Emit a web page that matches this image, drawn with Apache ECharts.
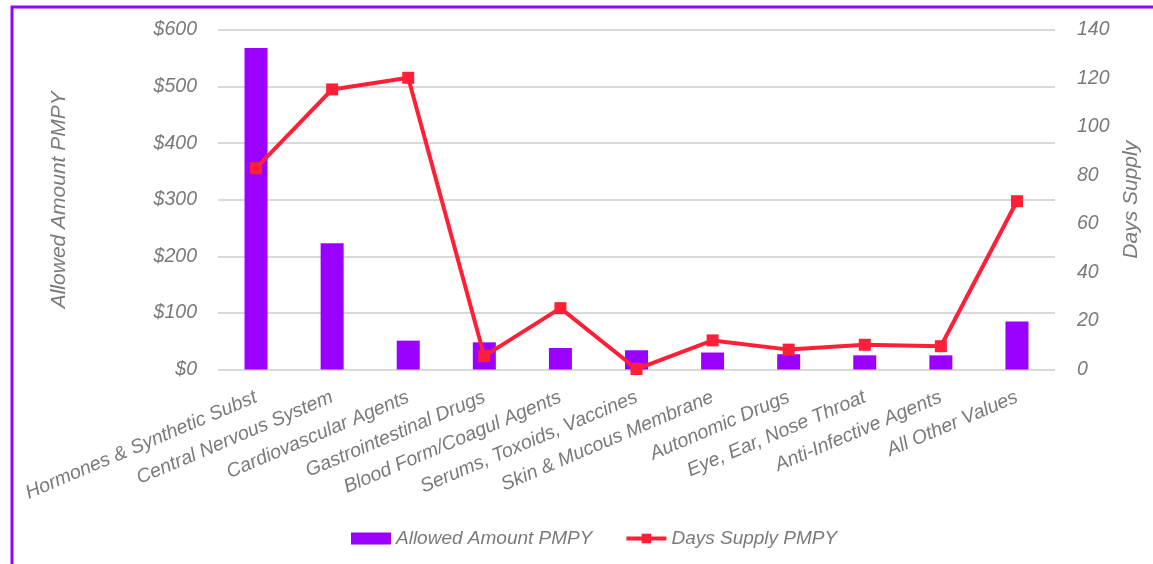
<!DOCTYPE html>
<html lang="en">
<head>
    <meta charset="utf-8">
    <title>Allowed Amount and Days Supply PMPY</title>
    <style>
        html, body { margin: 0; padding: 0; background: #fff; }
        #main { width: 1153px; height: 564px; }
    </style>
</head>
<body>
<div id="main"></div>
<script src="https://cdn.jsdelivr.net/npm/echarts@6/dist/echarts.min.js"></script>
<script type="text/javascript">

    // categories on the x axis
    var categories = [
        'Hormones & Synthetic Subst',
        'Central Nervous System',
        'Cardiovascular Agents',
        'Gastrointestinal Drugs',
        'Blood Form/Coagul Agents',
        'Serums, Toxoids, Vaccines',
        'Skin & Mucous Membrane',
        'Autonomic Drugs',
        'Eye, Ear, Nose Throat',
        'Anti-Infective Agents',
        'All Other Values'
    ];

    // bars, left axis ($)
    var allowedAmount = [568, 223, 51, 48, 38, 34, 30, 27, 25, 25, 85];

    // line, right axis (days)
    var daysSupply = [83, 115.5, 120.3, 5.5, 25.3, 0.2, 12, 8.2, 10.2, 9.6, 69.4];

    var textGray = '#7a7a7a';
    var fontName = 'Liberation Sans';
    var fs = 19.5;

    var myChart = echarts.init(document.getElementById('main'));

    var option = {
        animation: false,
        textStyle: { fontFamily: fontName },
        graphic: [{
            type: 'rect',
            shape: { x: 12, y: 7, width: 1200, height: 620 },
            style: { fill: 'none', stroke: '#9900ff', lineWidth: 3 },
            silent: true
        }],
        grid: {
            left: 218,
            right: 98,
            top: 30,
            bottom: 194.5
        },
        legend: {
            left: 346,
            top: 524,
            itemWidth: 40,
            itemHeight: 12,
            itemGap: 32,
            textStyle: { color: textGray, fontSize: 19, fontStyle: 'italic', fontFamily: fontName },
            data: [
                { name: 'Allowed Amount PMPY', icon: 'rect' },
                { name: 'Days Supply PMPY', lineStyle: { width: 4 } }
            ]
        },
        xAxis: {
            type: 'category',
            data: categories,
            axisLine: { show: false },
            axisTick: { show: false },
            axisLabel: {
                interval: 0,
                rotate: 23,
                margin: 27,
                color: textGray,
                fontSize: fs,
                fontStyle: 'italic'
            }
        },
        yAxis: [{
            type: 'value',
            min: 0,
            max: 600,
            interval: 100,
            name: 'Allowed Amount PMPY',
            nameLocation: 'middle',
            nameGap: 148,
            nameTextStyle: { color: textGray, fontSize: 21, fontStyle: 'italic' },
            axisLabel: {
                formatter: '${value}',
                color: textGray,
                fontSize: fs,
                fontStyle: 'italic',
                margin: 21
            },
            splitLine: { lineStyle: { color: '#d9d9d9', width: 2 } }
        }, {
            type: 'value',
            min: 0,
            max: 140,
            interval: 20,
            name: 'Days Supply',
            nameLocation: 'middle',
            nameGap: 61,
            nameTextStyle: { color: textGray, fontSize: 21, fontStyle: 'italic' },
            axisLabel: {
                color: textGray,
                fontSize: fs,
                fontStyle: 'italic',
                margin: 22
            },
            splitLine: { show: false }
        }],
        series: [{
            name: 'Allowed Amount PMPY',
            type: 'bar',
            barWidth: 23,
            itemStyle: { color: '#9900ff' },
            data: allowedAmount
        }, {
            name: 'Days Supply PMPY',
            type: 'line',
            yAxisIndex: 1,
            symbol: 'rect',
            symbolSize: 12,
            lineStyle: { color: '#ff1f36', width: 4 },
            itemStyle: { color: '#ff1f36' },
            data: daysSupply
        }]
    };

    myChart.setOption(option);

</script>
</body>
</html>
